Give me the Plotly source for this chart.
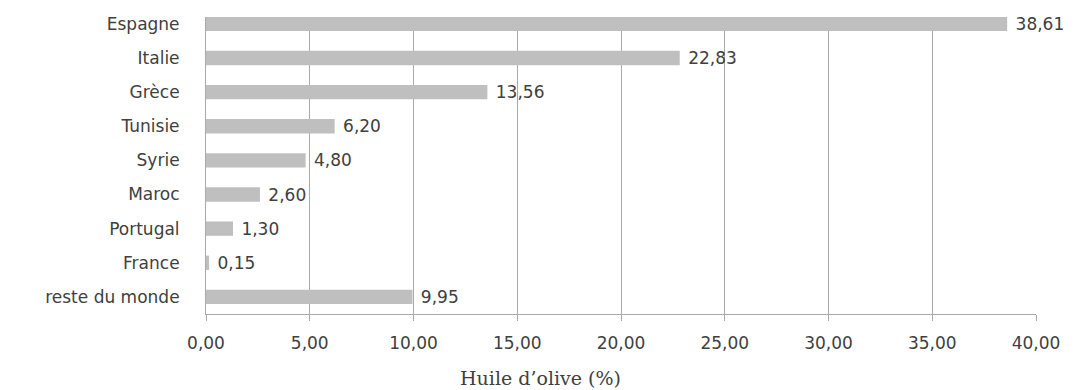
import plotly.graph_objects as go

# Parts of world olive oil production by country (%)
countries = ["Espagne", "Italie", "Grèce", "Tunisie", "Syrie", "Maroc",
             "Portugal", "France", "reste du monde"]
shares = [38.61, 22.83, 13.56, 6.20, 4.80, 2.60, 1.30, 0.15, 9.95]
x_ticks = [0, 5, 10, 15, 20, 25, 30, 35, 40]

TEXT = "#404040"
GRID = "#a9a9a9"
BAR = "#bfbfbf"
FONT = "DejaVu Sans"

fig = go.Figure(
    go.Bar(
        x=shares,
        y=countries,
        orientation="h",
        marker=dict(color=BAR, line=dict(width=0)),
        texttemplate=" %{x:.2f}",
        textposition="outside",
        constraintext="none",
        cliponaxis=False,
        textfont=dict(family=FONT, size=17, color=TEXT),
        hoverinfo="skip",
    )
)

fig.update_layout(
    width=1080,
    height=390,
    margin=dict(l=206, r=44, t=17, b=76),
    paper_bgcolor="white",
    plot_bgcolor="white",
    separators=", ",
    bargap=0.58,
    showlegend=False,
    font=dict(family=FONT, color=TEXT, size=17),
)

fig.update_xaxes(
    range=[0, 40],
    tickvals=x_ticks,
    tickformat=".2f",
    showgrid=True,
    gridcolor=GRID,
    gridwidth=1,
    zeroline=False,
    showline=True,
    linecolor=GRID,
    linewidth=1,
    ticks="outside",
    ticklen=6,
    tickcolor=GRID,
    ticklabelstandoff=8,
    tickfont=dict(family=FONT, size=17, color=TEXT),
    fixedrange=True,
)

fig.update_yaxes(
    categoryorder="array",
    categoryarray=countries,
    range=[8.5, -0.2],
    showgrid=False,
    zeroline=False,
    showline=True,
    linecolor=GRID,
    linewidth=1,
    ticks="",
    ticklabelstandoff=22,
    tickfont=dict(family=FONT, size=17, color=TEXT),
    fixedrange=True,
)

fig.add_annotation(
    text="Huile d\u2019olive (%)",
    xref="paper", yref="paper",
    x=(540 - 206) / (1080 - 206 - 44),
    y=-0.172,
    xanchor="center", yanchor="top",
    showarrow=False,
    font=dict(family="DejaVu Serif", size=19, color=TEXT),
)

fig.write_html("out.html")
